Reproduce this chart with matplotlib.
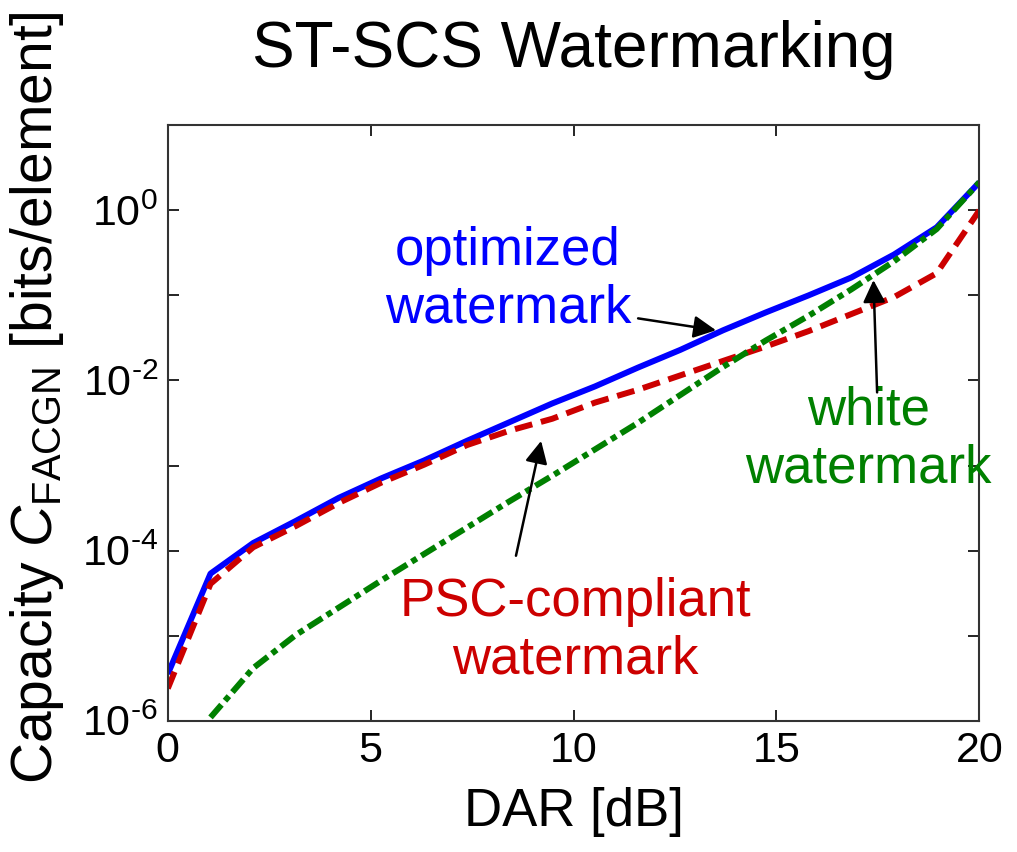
import numpy as np
import matplotlib
matplotlib.use("Agg")
import matplotlib.pyplot as plt
from matplotlib.ticker import FixedLocator, FuncFormatter, NullLocator

plt.rcParams['font.family'] = ['Liberation Sans', 'DejaVu Sans']
plt.rcParams['mathtext.fontset'] = 'custom'
plt.rcParams['mathtext.rm'] = 'Liberation Sans'
plt.rcParams['mathtext.it'] = 'Liberation Sans:italic'
plt.rcParams['mathtext.sf'] = 'Liberation Sans'
plt.rcParams['axes.unicode_minus'] = False

# DAR grid [dB]
dar = np.linspace(0, 20, 20)

# log10 of capacity
log_opt = [-5.45, -4.27, -3.91, -3.65, -3.38, -3.15, -2.94, -2.71, -2.49, -2.27,
           -2.07, -1.85, -1.64, -1.41, -1.20, -1.00, -0.79, -0.52, -0.20, 0.33]
log_psc = [-5.62, -4.39, -3.96, -3.71, -3.44, -3.20, -2.99, -2.76, -2.59, -2.45,
           -2.26, -2.11, -1.94, -1.77, -1.60, -1.42, -1.22, -1.02, -0.74, 0.0]
log_white = [np.nan, -5.96, -5.38, -4.99, -4.67, -4.35, -4.04, -3.73, -3.42, -3.12,
             -2.81, -2.50, -2.17, -1.84, -1.53, -1.24, -0.93, -0.60, -0.22, 0.33]

cap_opt = 10.0 ** np.array(log_opt)
cap_psc = 10.0 ** np.array(log_psc)
cap_white = 10.0 ** np.array(log_white)

fig = plt.figure(figsize=(10.17, 8.52), dpi=100)
ax = fig.add_axes([0.165, 0.154, 0.798, 0.699])

ax.plot(dar, cap_opt, color=(0, 0, 1), lw=4.3, solid_capstyle='butt')
ax.plot(dar, cap_psc, color=(0.8, 0, 0), lw=4.3, linestyle=(0, (3.0, 1.5)),
        dash_capstyle='butt')
ax.plot(dar, cap_white, color=(0, 0.5, 0), lw=4.3,
        linestyle=(0, (2.8, 0.9, 1.0, 0.9)), dash_capstyle='butt')

ax.set_yscale('log')
ax.set_xlim(0, 20)
ax.set_ylim(1e-6, 1e1)

ax.set_xticks([0, 5, 10, 15, 20])
ax.yaxis.set_major_locator(FixedLocator([10.0 ** k for k in range(-6, 2)]))
ax.yaxis.set_minor_locator(NullLocator())


def fmt_y(v, pos):
    k = int(round(np.log10(v)))
    if k % 2 != 0 or k > 0:
        return ''
    return r'$\mathregular{10^{\text{%d}}}$' % k


ax.yaxis.set_major_formatter(FuncFormatter(fmt_y))
ax.tick_params(direction='in', length=8, width=1.2, top=True, right=True,
               labelsize=31, pad=7)
ax.tick_params(axis='x', pad=7)
for s in ax.spines.values():
    s.set_linewidth(1.5)
    s.set_color('#333333')

ax.set_title('ST-SCS Watermarking', fontsize=46, pad=42)
ax.set_xlabel('DAR [dB]', fontsize=38, labelpad=12)
ax.set_ylabel(r'Capacity $\mathit{C}_{\mathrm{FACGN}}$ [bits/element]',
              fontsize=41)
ax.yaxis.set_label_coords(-0.125, 0.542)

arrow = dict(arrowstyle='-|>', color='k', lw=1.8, mutation_scale=34,
             shrinkA=0, shrinkB=0)

ax.text(8.38, 10 ** -0.82, 'optimized\nwatermark', color=(0, 0, 1),
        fontsize=38, ha='center', va='center', multialignment='center',
        linespacing=1.2)
ax.annotate('', xy=(13.51, 10 ** -1.41), xytext=(11.59, 10 ** -1.27),
            arrowprops=arrow)

ax.text(17.26, 10 ** -2.69, 'white\nwatermark', color=(0, 0.5, 0),
        fontsize=38, ha='center', va='center', multialignment='center',
        linespacing=1.2)
ax.annotate('', xy=(17.39, 10 ** -0.82), xytext=(17.48, 10 ** -2.14),
            arrowprops=arrow)

ax.text(10.04, 10 ** -4.94, 'PSC-compliant\nwatermark', color=(0.8, 0, 0),
        fontsize=38, ha='center', va='center', multialignment='center',
        linespacing=1.2)
ax.annotate('', xy=(9.20, 10 ** -2.71), xytext=(8.58, 10 ** -4.06),
            arrowprops=arrow)

fig.savefig('out.png', dpi=100)
